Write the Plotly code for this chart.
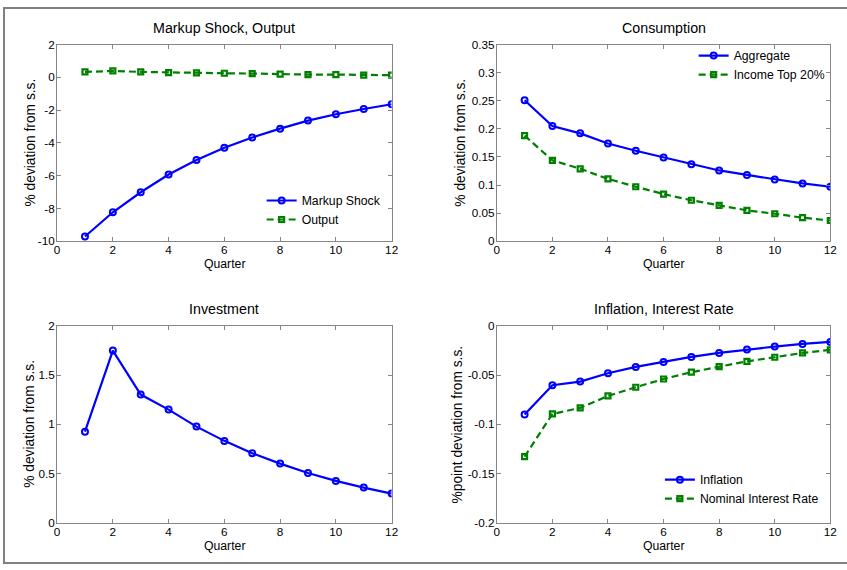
import plotly.graph_objects as go

W, H = 847, 570

# Screen placement of the rendered page: the photographed page lands at
# x' = 4 + 0.9866 x, y' = 6 + 0.976 y, so layout positions are given in
# screen pixels and mapped back to figure pixels here.
SX, OX = 0.9866, 4.0
SY, OY = 0.976, 6.0
FONT_SCALE = 1 / 0.98

quarters = list(range(1, 13))

markup_shock = [-9.71, -8.23, -7.01, -5.93, -5.04, -4.30, -3.67, -3.13, -2.64, -2.25, -1.93, -1.64]
output = [0.33, 0.39, 0.33, 0.29, 0.27, 0.25, 0.23, 0.19, 0.17, 0.17, 0.13, 0.13]

cons_aggregate = [0.251, 0.205, 0.192, 0.174, 0.161, 0.149, 0.137, 0.126, 0.118, 0.110, 0.103, 0.097]
cons_top20 = [0.188, 0.144, 0.129, 0.111, 0.097, 0.084, 0.073, 0.064, 0.055, 0.049, 0.042, 0.037]

investment = [0.925, 1.749, 1.302, 1.149, 0.976, 0.831, 0.705, 0.600, 0.505, 0.424, 0.356, 0.295]

inflation = [-0.0902, -0.0603, -0.0566, -0.0481, -0.0417, -0.0366, -0.0315, -0.0275, -0.0241, -0.0210, -0.0183, -0.0163]
nominal_rate = [-0.1329, -0.0895, -0.0834, -0.0712, -0.0624, -0.0540, -0.0471, -0.0414, -0.0360, -0.0319, -0.0275, -0.0244]

x_ticks = [0, 2, 4, 6, 8, 10, 12]
y1_ticks = [-10, -8, -6, -4, -2, 0, 2]
y1_labels = ["-10", "-8", "-6", "-4", "-2", "0", "2"]
y2_ticks = [0, 0.05, 0.1, 0.15, 0.2, 0.25, 0.3, 0.35]
y2_labels = ["0", "0.05", "0.1", "0.15", "0.2", "0.25", "0.3", "0.35"]
y3_ticks = [0, 0.5, 1, 1.5, 2]
y3_labels = ["0", "0.5", "1", "1.5", "2"]
y4_ticks = [-0.2, -0.15, -0.1, -0.05, 0]
y4_labels = ["-0.2", "-0.15", "-0.1", "-0.05", "0"]

BLUE = "#0000ff"
GREEN = "#008000"
AXIS_GRAY = "#868686"
FONT = "Liberation Sans, Arial, sans-serif"


def fx(t):
    return (t - OX) / SX


def fy(t):
    return (t - OY) / SY


def px_x(t):
    return fx(t) / W


def px_y(t):
    return 1 - fy(t) / H


def fs(size):
    return size * FONT_SCALE


# panel boxes in screen pixels: (left, right, top, bottom)
boxes = {
    1: (58, 392, 43.5, 240),
    2: (497, 830, 43.5, 240),
    3: (58, 392, 324.5, 521),
    4: (497, 830, 324.5, 521),
}

circle_marker = dict(symbol="circle-open", size=6, color=BLUE, line=dict(width=2, color=BLUE))
square_marker = dict(symbol="square-open", size=5, color=GREEN, line=dict(width=2.2, color=GREEN))


def solid_trace(y, name, xa, ya, legend):
    return go.Scatter(
        x=quarters, y=y, name=name, mode="lines+markers",
        xaxis=xa, yaxis=ya, legend=legend,
        line=dict(color=BLUE, width=2.2),
        marker=circle_marker,
        showlegend=True,
    )


def dashed_trace(y, name, xa, ya, legend):
    return go.Scatter(
        x=quarters, y=y, name=name, mode="lines+markers",
        xaxis=xa, yaxis=ya, legend=legend,
        line=dict(color=GREEN, width=2.2, dash="7px,4px"),
        marker=square_marker,
        showlegend=True,
    )


fig = go.Figure()
fig.add_trace(solid_trace(markup_shock, "Markup Shock", "x", "y", "legend"))
fig.add_trace(dashed_trace(output, "Output", "x", "y", "legend"))
fig.add_trace(solid_trace(cons_aggregate, "Aggregate", "x2", "y2", "legend2"))
fig.add_trace(dashed_trace(cons_top20, "Income Top 20%", "x2", "y2", "legend2"))
fig.add_trace(go.Scatter(
    x=quarters, y=investment, name="Investment", mode="lines+markers",
    xaxis="x3", yaxis="y3", showlegend=False,
    line=dict(color=BLUE, width=2.2),
    marker=circle_marker,
))
fig.add_trace(solid_trace(inflation, "Inflation", "x4", "y4", "legend3"))
fig.add_trace(dashed_trace(nominal_rate, "Nominal Interest Rate", "x4", "y4", "legend3"))

tick_font = dict(family=FONT, size=fs(11.5), color="black")

yranges = {1: [-10, 2], 2: [0, 0.35], 3: [0, 2], 4: [-0.2, 0]}
yticks = {1: (y1_ticks, y1_labels), 2: (y2_ticks, y2_labels),
          3: (y3_ticks, y3_labels), 4: (y4_ticks, y4_labels)}

layout_axes = {}
for i, (l, r, t, b) in boxes.items():
    sfx = "" if i == 1 else str(i)
    common = dict(
        showline=True, mirror="ticks", linecolor=AXIS_GRAY, linewidth=1,
        ticks="inside", ticklen=4, tickcolor=AXIS_GRAY, tickwidth=1,
        showgrid=False, zeroline=False, tickfont=tick_font,
    )
    layout_axes["xaxis" + sfx] = dict(
        domain=[px_x(l), px_x(r)], range=[0, 12], tickvals=x_ticks,
        anchor="y" + sfx, ticklabelstandoff=-2, **common,
    )
    vals, labs = yticks[i]
    layout_axes["yaxis" + sfx] = dict(
        domain=[px_y(b), px_y(t)], range=yranges[i], tickvals=vals, ticktext=labs,
        anchor="x" + sfx, ticklabelstandoff=-1, **common,
    )

fig.update_layout(**layout_axes)

# legend anchors: (screen x where item text starts, screen y of first row centre)
legend_spots = {"legend": (301.7, 200.0), "legend2": (733.0, 55.3), "legend3": (699.3, 478.8)}
LEGEND_TEXT_DX = 40.0
LEGEND_ROW_DY = 15.6
legend_font = dict(family=FONT, size=fs(12), color="black")
legend_layout = {}
for key, (tx, ty) in legend_spots.items():
    legend_layout[key] = dict(
        x=(fx(tx) - LEGEND_TEXT_DX) / W, y=1 - (fy(ty) - LEGEND_ROW_DY) / H,
        xref="paper", yref="paper", xanchor="left", yanchor="top",
        bgcolor="rgba(0,0,0,0)", borderwidth=0, font=legend_font,
        itemwidth=30, tracegroupgap=0,
    )
fig.update_layout(**legend_layout)

annotations = []
titles = {1: "Markup Shock, Output", 2: "Consumption", 3: "Investment", 4: "Inflation, Interest Rate"}
ytitles = {1: "% deviation from s.s.", 2: "% deviation from s.s.",
           3: "% deviation from s.s.", 4: "%point deviation from s.s."}
ytitle_x = {1: 31.5, 2: 461, 3: 30.5, 4: 457.5}
for i, (l, r, t, b) in boxes.items():
    cx = (l + r) / 2
    annotations.append(dict(
        text=titles[i], x=px_x(cx), y=px_y(t - 16.5), xref="paper", yref="paper",
        showarrow=False, xanchor="center", yanchor="middle",
        font=dict(family=FONT, size=fs(14), color="black"),
    ))
    annotations.append(dict(
        text="Quarter", x=px_x(cx), y=px_y(b + 23), xref="paper", yref="paper",
        showarrow=False, xanchor="center", yanchor="middle",
        font=dict(family=FONT, size=fs(12), color="black"),
    ))
    annotations.append(dict(
        text=ytitles[i], x=px_x(ytitle_x[i]), y=px_y((t + b) / 2), xref="paper", yref="paper",
        showarrow=False, xanchor="center", yanchor="middle", textangle=-90,
        font=dict(family=FONT, size=fs(13.5), color="black"),
    ))

fig.update_layout(
    width=W, height=H,
    margin=dict(l=0, r=0, t=0, b=0),
    paper_bgcolor="white", plot_bgcolor="white",
    annotations=annotations,
    shapes=[dict(
        type="rect", xref="paper", yref="paper",
        x0=1 / W, x1=1.02, y0=1 / H, y1=1 - 1 / H,
        line=dict(color="#808080", width=2), fillcolor="rgba(0,0,0,0)", layer="below",
    )],
)

fig.write_html("out.html")
